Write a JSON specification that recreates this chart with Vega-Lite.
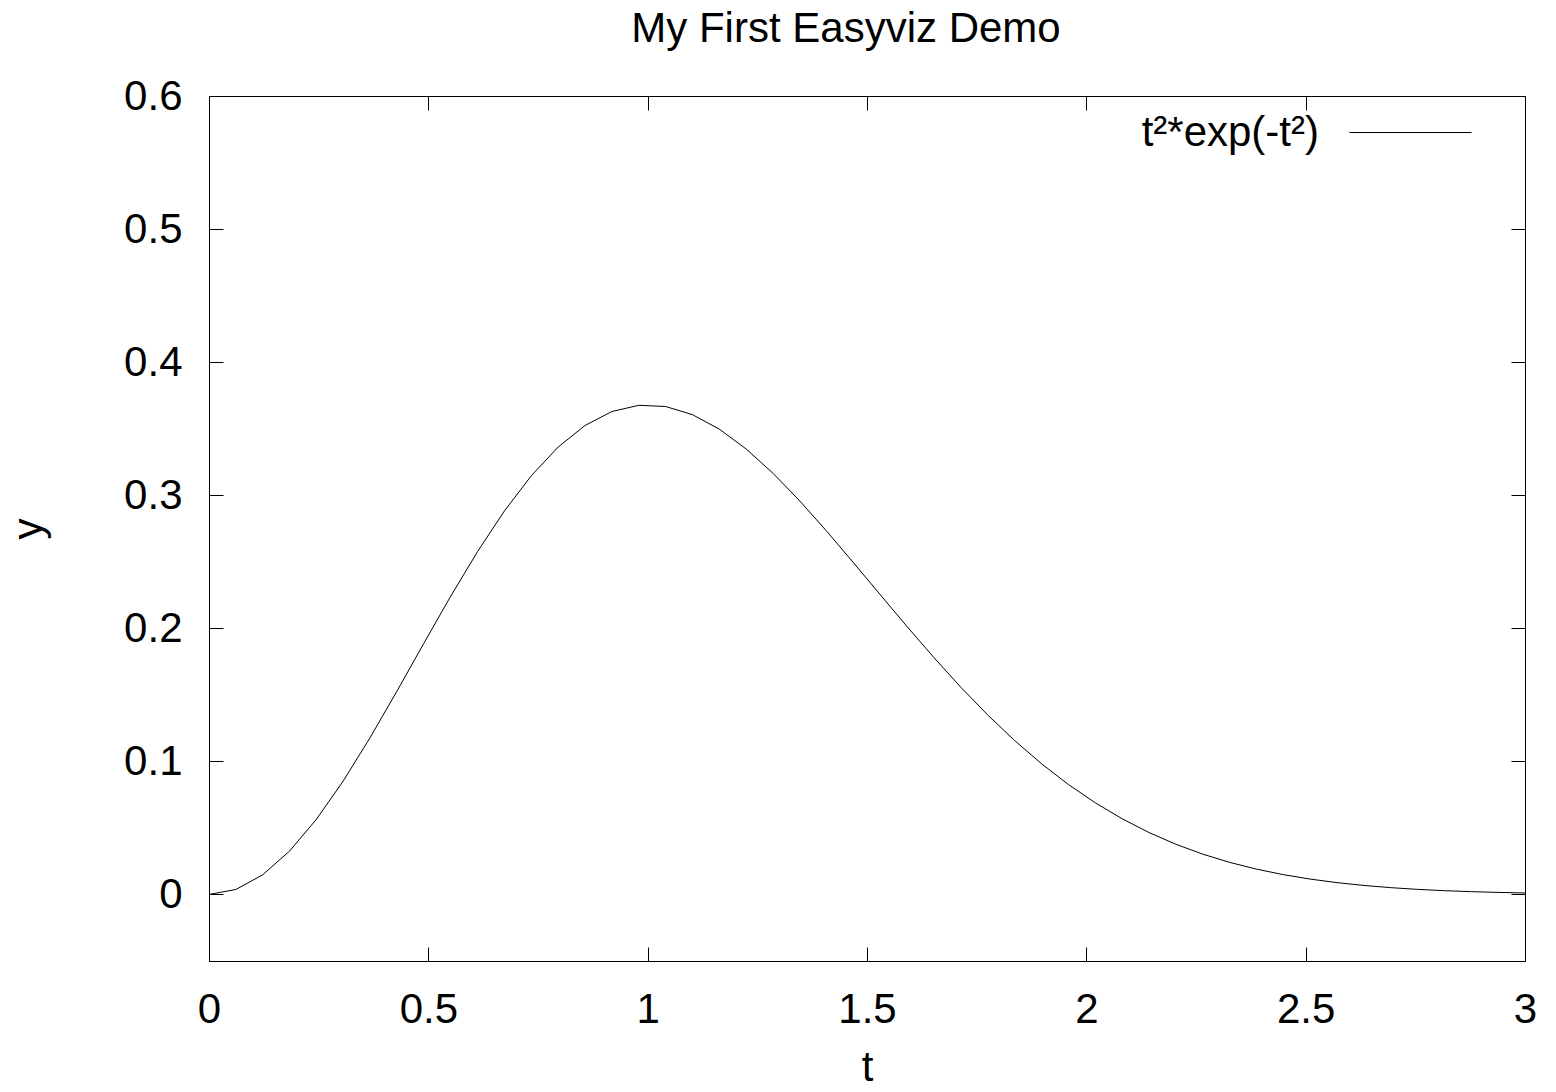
{
  "$schema": "https://vega.github.io/schema/vega-lite/v6.json",
  "width": 1316,
  "height": 865,
  "autosize": {"type": "none"},
  "padding": {"left": 209, "top": 96, "right": 31, "bottom": 131},
  "background": "white",
  "title": {"text": "My First Easyviz Demo", "fontSize": 42, "font": "Liberation Sans", "fontWeight": "normal", "color": "black", "baseline": "alphabetic", "offset": -13, "dx": -21},
  "data": {"values": [
    {"t": 0.000000, "y": 0.000000, "series": "t²*exp(-t²)"},
    {"t": 0.061224, "y": 0.003734, "series": "t²*exp(-t²)"},
    {"t": 0.122449, "y": 0.014771, "series": "t²*exp(-t²)"},
    {"t": 0.183673, "y": 0.032617, "series": "t²*exp(-t²)"},
    {"t": 0.244898, "y": 0.056484, "series": "t²*exp(-t²)"},
    {"t": 0.306122, "y": 0.085328, "series": "t²*exp(-t²)"},
    {"t": 0.367347, "y": 0.117909, "series": "t²*exp(-t²)"},
    {"t": 0.428571, "y": 0.152854, "series": "t²*exp(-t²)"},
    {"t": 0.489796, "y": 0.188730, "series": "t²*exp(-t²)"},
    {"t": 0.551020, "y": 0.224118, "series": "t²*exp(-t²)"},
    {"t": 0.612245, "y": 0.257663, "series": "t²*exp(-t²)"},
    {"t": 0.673469, "y": 0.288177, "series": "t²*exp(-t²)"},
    {"t": 0.734694, "y": 0.314628, "series": "t²*exp(-t²)"},
    {"t": 0.795918, "y": 0.336219, "series": "t²*exp(-t²)"},
    {"t": 0.857143, "y": 0.352405, "series": "t²*exp(-t²)"},
    {"t": 0.918367, "y": 0.362884, "series": "t²*exp(-t²)"},
    {"t": 0.979592, "y": 0.367572, "series": "t²*exp(-t²)"},
    {"t": 1.040816, "y": 0.366680, "series": "t²*exp(-t²)"},
    {"t": 1.102041, "y": 0.360557, "series": "t²*exp(-t²)"},
    {"t": 1.163265, "y": 0.349680, "series": "t²*exp(-t²)"},
    {"t": 1.224490, "y": 0.334766, "series": "t²*exp(-t²)"},
    {"t": 1.285714, "y": 0.316528, "series": "t²*exp(-t²)"},
    {"t": 1.346939, "y": 0.295650, "series": "t²*exp(-t²)"},
    {"t": 1.408163, "y": 0.272957, "series": "t²*exp(-t²)"},
    {"t": 1.469388, "y": 0.249186, "series": "t²*exp(-t²)"},
    {"t": 1.530612, "y": 0.225111, "series": "t²*exp(-t²)"},
    {"t": 1.591837, "y": 0.201117, "series": "t²*exp(-t²)"},
    {"t": 1.653061, "y": 0.177827, "series": "t²*exp(-t²)"},
    {"t": 1.714286, "y": 0.155573, "series": "t²*exp(-t²)"},
    {"t": 1.775510, "y": 0.134763, "series": "t²*exp(-t²)"},
    {"t": 1.836735, "y": 0.115618, "series": "t²*exp(-t²)"},
    {"t": 1.897959, "y": 0.098216, "series": "t²*exp(-t²)"},
    {"t": 1.959184, "y": 0.082640, "series": "t²*exp(-t²)"},
    {"t": 2.020408, "y": 0.068880, "series": "t²*exp(-t²)"},
    {"t": 2.081633, "y": 0.056882, "series": "t²*exp(-t²)"},
    {"t": 2.142857, "y": 0.046530, "series": "t²*exp(-t²)"},
    {"t": 2.204082, "y": 0.037720, "series": "t²*exp(-t²)"},
    {"t": 2.265306, "y": 0.030308, "series": "t²*exp(-t²)"},
    {"t": 2.326531, "y": 0.024137, "series": "t²*exp(-t²)"},
    {"t": 2.387755, "y": 0.019050, "series": "t²*exp(-t²)"},
    {"t": 2.448980, "y": 0.014903, "series": "t²*exp(-t²)"},
    {"t": 2.510204, "y": 0.011556, "series": "t²*exp(-t²)"},
    {"t": 2.571429, "y": 0.008884, "series": "t²*exp(-t²)"},
    {"t": 2.632653, "y": 0.006771, "series": "t²*exp(-t²)"},
    {"t": 2.693878, "y": 0.005116, "series": "t²*exp(-t²)"},
    {"t": 2.755102, "y": 0.003833, "series": "t²*exp(-t²)"},
    {"t": 2.816327, "y": 0.002848, "series": "t²*exp(-t²)"},
    {"t": 2.877551, "y": 0.002098, "series": "t²*exp(-t²)"},
    {"t": 2.938776, "y": 0.001533, "series": "t²*exp(-t²)"},
    {"t": 3.000000, "y": 0.001111, "series": "t²*exp(-t²)"}
  ]},
  "layer": [
    {
      "mark": {"type": "line", "strokeWidth": 1, "clip": true},
      "encoding": {
        "x": {"field": "t", "type": "quantitative", "scale": {"domain": [0, 3], "nice": false, "zero": false},
              "axis": {"orient": "bottom", "values": [0, 0.5, 1, 1.5, 2, 2.5, 3], "format": "~g", "labelPadding": 42, "title": "t", "titlePadding": 17, "labelFlush": false}},
        "y": {"field": "y", "type": "quantitative", "scale": {"domain": [-0.05, 0.6], "nice": false, "zero": false},
              "axis": {"orient": "left", "values": [0, 0.1, 0.2, 0.3, 0.4, 0.5, 0.6], "format": "~g", "labelPadding": 41, "title": "y", "titlePadding": 73, "labelFlush": false}},
        "color": {"field": "series", "type": "nominal", "scale": {"range": ["black"]},
                  "legend": {"orient": "none", "legendX": 1140, "legendY": -25, "title": null, "symbolType": "stroke", "symbolSize": 14884, "symbolStrokeWidth": 1, "labelAlign": "right", "labelOffset": -153, "labelFontSize": 42, "labelFont": "Liberation Sans", "labelColor": "black", "labelLimit": 0, "padding": 0}}
      }
    },
    {
      "mark": {"type": "line", "opacity": 0},
      "encoding": {
        "x": {"field": "t", "type": "quantitative",
              "axis": {"orient": "top", "values": [0, 0.5, 1, 1.5, 2, 2.5, 3], "labels": false, "title": null}},
        "y": {"field": "y", "type": "quantitative",
              "axis": {"orient": "right", "values": [0, 0.1, 0.2, 0.3, 0.4, 0.5, 0.6], "labels": false, "title": null}}
      }
    }
  ],
  "resolve": {"axis": {"x": "independent", "y": "independent"}},
  "config": {
    "view": {"stroke": "black", "strokeWidth": 1},
    "axis": {"grid": false, "domain": false, "ticks": true, "tickColor": "black", "tickWidth": 1, "tickSize": -14,
             "labelFont": "Liberation Sans", "labelFontSize": 42, "labelColor": "black",
             "titleFont": "Liberation Sans", "titleFontSize": 42, "titleFontWeight": "normal", "titleColor": "black"}
  }
}
